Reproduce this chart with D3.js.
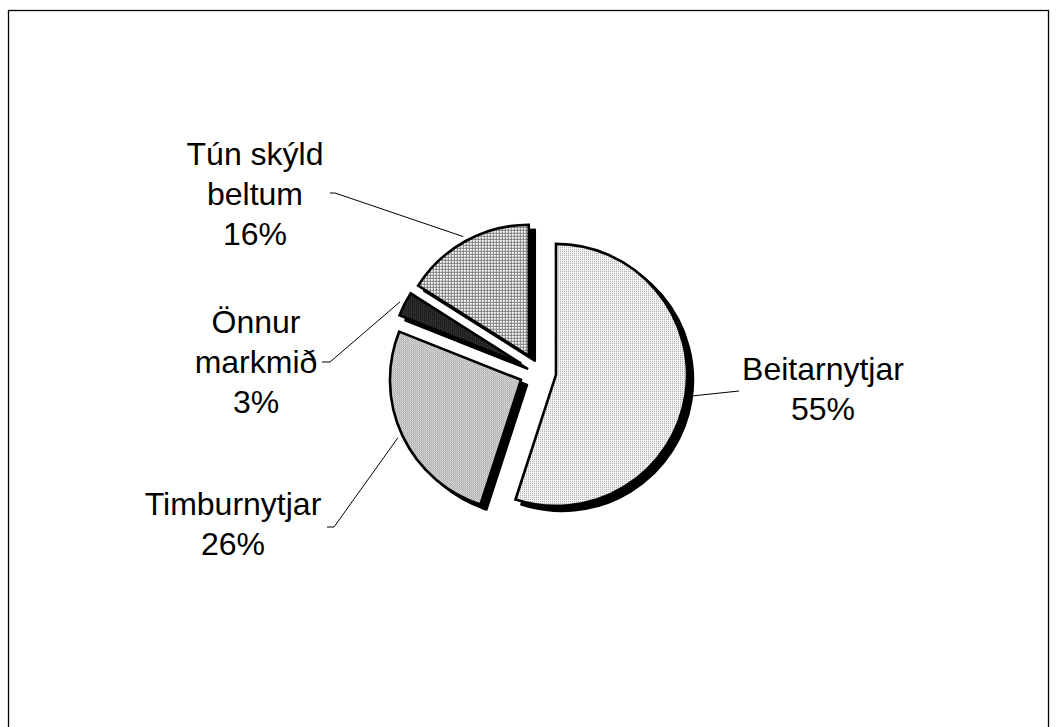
<!DOCTYPE html>
<html><head><meta charset="utf-8">
<script src="https://cdn.jsdelivr.net/npm/d3@7"></script>
<style>html,body{margin:0;padding:0;background:#fff;} svg{display:block;}</style>
</head><body>
<script>
// ---- data ----
const categories = ["Beitarnytjar", "Timburnytjar", "Önnur markmið", "Tún skýld beltum"];
const values = [55, 26, 3, 16];
const labelLines = [["Beitarnytjar"], ["Timburnytjar"], ["Önnur", "markmið"], ["Tún skýld", "beltum"]];
const patternIds = ["pBeit", "pTimb", "pOnn", "pTun"];

// ---- layout ----
const W = 1057, H = 727;
const cx = 537.7, cy = 372, R = 131, explode = 18.5;
const shadow = [6, 5];
const labelPos = [[823, 380], [233, 515], [256, 333], [255, 165]];
const leaderEnds = [[[739, 391]], [[334, 527], [327, 527]], [[330, 362], [322, 362]], [[335, 193], [330, 193]]];
const lineH = 40;

const svg = d3.select("body").append("svg").attr("width", W).attr("height", H);
const defs = svg.append("defs");

function pat(id, size, bg, cells) {
  const p = defs.append("pattern").attr("id", id).attr("patternUnits", "userSpaceOnUse")
    .attr("width", size).attr("height", size);
  p.append("rect").attr("width", size).attr("height", size).attr("fill", bg);
  cells.forEach(c => p.append("rect").attr("x", c[0]).attr("y", c[1]).attr("width", c[2]).attr("height", c[3]).attr("fill", c[4]));
}
pat("pBeit", 2, "#f4f4f4", [[0, 0, 1, 1, "#a8a8a8"]]);
pat("pTimb", 2, "#d6d6d6", [[0, 0, 1, 1, "#a6a6a6"], [1, 1, 1, 1, "#bcbcbc"]]);
pat("pTun", 3, "#ffffff", [[0, 0, 3, 1, "#7a7a7a"], [0, 0, 1, 3, "#7a7a7a"]]);
pat("pOnn", 2, "#1a1a1a", [[0, 0, 1, 1, "#4a4a4a"]]);

svg.append("rect").attr("x", 8.5).attr("y", 10.5).attr("width", 1040).attr("height", 740)
  .attr("fill", "none").attr("stroke", "#000").attr("stroke-width", 1.3);

const pie = d3.pie().sort(null).value(d => d)(values);
const arc = d3.arc().innerRadius(0).outerRadius(R);

function offset(d) {
  const a = (d.startAngle + d.endAngle) / 2;
  return [cx + explode * Math.sin(a), cy - explode * Math.cos(a)];
}

const g = svg.append("g");
// shadows
g.selectAll("path.sh").data(pie).join("path").attr("class", "sh")
  .attr("d", arc)
  .attr("transform", d => { const o = offset(d); return `translate(${o[0] + shadow[0]},${o[1] + shadow[1]})`; })
  .attr("fill", "#000").attr("stroke", "#000").attr("stroke-width", 2.5).attr("stroke-linejoin", "round");
// slices
g.selectAll("path.sl").data(pie).join("path").attr("class", "sl")
  .attr("d", arc)
  .attr("transform", d => { const o = offset(d); return `translate(${o[0]},${o[1]})`; })
  .attr("fill", (d, i) => `url(#${patternIds[i]})`)
  .attr("stroke", "#000").attr("stroke-width", 2.6).attr("stroke-linejoin", "miter");

// leader lines
const line = d3.line();
pie.forEach((d, i) => {
  const o = offset(d);
  const a = (d.startAngle + d.endAngle) / 2;
  const rr = R + 5;
  const p0 = [o[0] + rr * Math.sin(a), o[1] - rr * Math.cos(a)];
  svg.append("path").attr("d", line([p0, ...leaderEnds[i]]))
    .attr("fill", "none").attr("stroke", "#000").attr("stroke-width", 1);
});

// labels
const total = d3.sum(values);
const fmt = d3.format(".0%");
pie.forEach((d, i) => {
  const lines = labelLines[i].concat([fmt(values[i] / total)]);
  const t = svg.append("text").attr("text-anchor", "middle")
    .attr("font-family", "'Liberation Sans', Arial, sans-serif").attr("font-size", 32).attr("fill", "#000");
  lines.forEach((s, k) => {
    t.append("tspan").attr("x", labelPos[i][0]).attr("y", labelPos[i][1] + k * lineH).text(s);
  });
});
</script>
</body></html>
